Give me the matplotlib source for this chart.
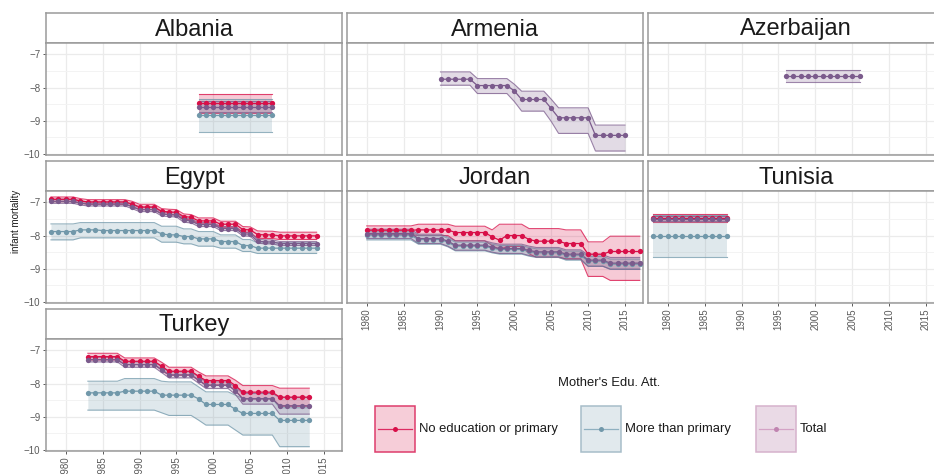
import matplotlib

matplotlib.use('Agg')
from matplotlib import pyplot as plt
from matplotlib.patches import Rectangle
from matplotlib.lines import Line2D

plt.rcParams['font.family'] = ['Liberation Sans', 'DejaVu Sans']

W, H = 934, 474

RED = '#d80f48'
BLUE = '#7198aa'
PURPLE = '#7b5b8c'

# ---- data (log infant mortality) ----
albania_years = list(range(1998, 2009))
albania_noedu = [-8.48] * 11
albania_noedu_lo = [-8.76] * 11
albania_noedu_hi = [-8.18] * 11
albania_more = [-8.83] * 11
albania_more_lo = [-9.33] * 11
albania_more_hi = [-8.36] * 11
albania_total = [-8.58] * 11
albania_total_lo = [-8.74] * 11
albania_total_hi = [-8.42] * 11

armenia_years = list(range(1990, 2016))
armenia_total = [-7.75] * 5 + [-7.94] * 5 + [-8.10] + [-8.36] * 4 + [-8.63] + [-8.91] * 5 + [-9.44] * 5
armenia_total_hi = [-7.53] * 5 + [-7.73] * 5 + [-7.90] + [-8.11] * 4 + [-8.35] + [-8.61] * 5 + [-9.13] * 5
armenia_total_lo = [-7.93] * 5 + [-8.18] * 5 + [-8.42] + [-8.71] * 4 + [-9.02] + [-9.38] * 5 + [-9.91] * 5

azerbaijan_years = list(range(1996, 2007))
azerbaijan_total = [-7.64] * 11
azerbaijan_total_hi = [-7.46] * 11
azerbaijan_total_lo = [-7.84] * 11

egypt_years = list(range(1978, 2015))
egypt_noedu = ([-6.91] * 4 + [-6.96] + [-6.99] * 6 + [-7.05] + [-7.14] * 3 + [-7.27, -7.29, -7.30]
               + [-7.43, -7.45] + [-7.56] * 3 + [-7.66] * 3 + [-7.82, -7.83] + [-7.97, -7.98, -7.98] + [-8.01] * 6)
egypt_noedu_hi = ([-6.84] * 4 + [-6.89] + [-6.92] * 6 + [-6.97] + [-7.06] * 3 + [-7.19, -7.21, -7.22]
                  + [-7.35, -7.37] + [-7.47] * 3 + [-7.57] * 3 + [-7.73, -7.74] + [-7.86, -7.87, -7.87] + [-7.90] * 6)
egypt_noedu_lo = ([-6.98] * 4 + [-7.03] + [-7.06] * 6 + [-7.13] + [-7.22] * 3 + [-7.35, -7.37, -7.38]
                  + [-7.51, -7.53] + [-7.65] * 3 + [-7.75] * 3 + [-7.91, -7.92] + [-8.08, -8.09, -8.09] + [-8.12] * 6)
egypt_more = ([-7.88] * 4 + [-7.83] * 3 + [-7.85] * 8 + [-7.95] + [-7.98] * 2 + [-8.03] * 2 + [-8.10] * 3
              + [-8.18] * 3 + [-8.30] * 2 + [-8.38] * 9)
egypt_more_hi = ([-7.65] * 4 + [-7.61] * 11 + [-7.72] * 3 + [-7.80] * 2 + [-7.88] * 3 + [-7.98] * 3
                 + [-8.12] * 2 + [-8.22] * 9)
egypt_more_lo = ([-8.13] * 4 + [-8.07] * 11 + [-8.20] * 3 + [-8.25] * 2 + [-8.32] * 3 + [-8.38] * 3
                 + [-8.48] * 2 + [-8.54] * 9)
egypt_total = ([-6.97] * 4 + [-7.02] + [-7.05] * 6 + [-7.13] + [-7.22] * 3 + [-7.35, -7.37, -7.38]
               + [-7.54, -7.56] + [-7.67] * 3 + [-7.79] * 3 + [-7.95, -7.96] + [-8.17, -8.19, -8.19] + [-8.24] * 6)
egypt_total_hi = ([-6.91] * 4 + [-6.96] + [-6.99] * 6 + [-7.07] + [-7.16] * 3 + [-7.29, -7.31, -7.32]
                  + [-7.48, -7.50] + [-7.61] * 3 + [-7.73] * 3 + [-7.89, -7.90] + [-8.11, -8.13, -8.13] + [-8.18] * 6)
egypt_total_lo = ([-7.03] * 4 + [-7.08] + [-7.11] * 6 + [-7.19] + [-7.28] * 3 + [-7.41, -7.43, -7.44]
                  + [-7.60, -7.62] + [-7.73] * 3 + [-7.85] * 3 + [-8.01, -8.02] + [-8.23, -8.25, -8.25] + [-8.30] * 6)

jordan_years = list(range(1980, 2018))
jordan_noedu = ([-7.84] * 7 + [-7.83] * 5 + [-7.91] * 5 + [-8.04, -8.14] + [-8.00] * 3 + [-8.12]
                + [-8.17] * 4 + [-8.24] * 3 + [-8.56] * 3 + [-8.48] * 5)
jordan_noedu_hi = ([-7.71] * 7 + [-7.66] * 5 + [-7.72] * 5 + [-7.83, -7.66] + [-7.66] * 3 + [-7.79]
                   + [-7.79] * 4 + [-7.83] * 3 + [-8.19] * 3 + [-8.02] * 5)
jordan_noedu_lo = ([-7.97] * 7 + [-8.00] * 5 + [-8.16] * 5 + [-8.30, -8.42] + [-8.33] * 3 + [-8.55]
                   + [-8.66] * 4 + [-8.70] * 3 + [-9.23] * 3 + [-9.35] * 5)
jordan_more = ([-7.99] * 7 + [-8.12] * 4 + [-8.20] + [-8.32] * 5 + [-8.38] + [-8.42] * 4 + [-8.48]
               + [-8.52] * 4 + [-8.59] * 3 + [-8.77] * 3 + [-8.86] * 5)
jordan_more_hi = ([-7.87] * 7 + [-8.00] * 4 + [-8.08] + [-8.20] * 5 + [-8.26] + [-8.30] * 4 + [-8.36]
                  + [-8.40] * 4 + [-8.47] * 3 + [-8.63] * 3 + [-8.71] * 5)
jordan_more_lo = ([-8.13] * 7 + [-8.26] * 4 + [-8.34] + [-8.46] * 5 + [-8.52] + [-8.56] * 4 + [-8.62]
                  + [-8.66] * 4 + [-8.74] * 3 + [-8.93] * 3 + [-9.02] * 5)
jordan_total = ([-7.94] * 7 + [-8.09] * 4 + [-8.17] + [-8.29] * 5 + [-8.35] + [-8.39] * 4 + [-8.45]
                + [-8.49] * 4 + [-8.56] * 3 + [-8.74] * 3 + [-8.83] * 5)
jordan_total_hi = ([-7.81] * 7 + [-7.96] * 4 + [-8.04] + [-8.16] * 5 + [-8.22] + [-8.26] * 4 + [-8.32]
                   + [-8.36] * 4 + [-8.43] * 3 + [-8.58] * 3 + [-8.66] * 5)
jordan_total_lo = ([-8.09] * 7 + [-8.24] * 4 + [-8.32] + [-8.44] * 5 + [-8.50] + [-8.54] * 4 + [-8.60]
                   + [-8.64] * 4 + [-8.71] * 3 + [-8.92] * 3 + [-9.01] * 5)

tunisia_years = list(range(1978, 1989))
tunisia_noedu = [-7.47] * 11
tunisia_noedu_hi = [-7.34] * 11
tunisia_noedu_lo = [-7.60] * 11
tunisia_more = [-8.00] * 11
tunisia_more_hi = [-7.38] * 11
tunisia_more_lo = [-8.64] * 11
tunisia_total = [-7.49] * 11
tunisia_total_hi = [-7.41] * 11
tunisia_total_lo = [-7.57] * 11

turkey_years = list(range(1983, 2014))
turkey_noedu = ([-7.19] * 5 + [-7.33] * 5 + [-7.48] + [-7.63] * 4 + [-7.78] + [-7.91] * 4 + [-8.06]
                + [-8.26] * 5 + [-8.41] * 5)
turkey_noedu_hi = ([-7.09] * 5 + [-7.23] * 5 + [-7.36] + [-7.51] * 4 + [-7.65] + [-7.77] * 4 + [-7.90]
                   + [-8.06] * 5 + [-8.14] * 5)
turkey_noedu_lo = ([-7.29] * 5 + [-7.43] * 5 + [-7.60] + [-7.75] * 4 + [-7.91] + [-8.05] * 4 + [-8.22]
                   + [-8.46] * 5 + [-8.68] * 5)
turkey_more = ([-8.28] * 5 + [-8.23] * 5 + [-8.35] + [-8.35] * 4 + [-8.46] + [-8.63] * 4 + [-8.78]
               + [-8.90] * 5 + [-9.11] * 5)
turkey_more_hi = ([-7.93] * 5 + [-7.85] * 5 + [-7.93] + [-7.95] * 4 + [-8.10] + [-8.25] * 4 + [-8.35]
                  + [-8.45] * 5 + [-8.73] * 5)
turkey_more_lo = ([-8.80] * 5 + [-8.80] * 5 + [-8.88] + [-8.96] * 4 + [-9.10] + [-9.25] * 4 + [-9.40]
                  + [-9.55] * 5 + [-9.90] * 5)
turkey_total = ([-7.28] * 5 + [-7.43] * 5 + [-7.58] + [-7.74] * 4 + [-7.89] + [-8.05] * 4 + [-8.22]
                + [-8.46] * 5 + [-8.67] * 5)
turkey_total_hi = ([-7.21] * 5 + [-7.35] * 5 + [-7.49] + [-7.65] * 4 + [-7.79] + [-7.95] * 4 + [-8.11]
                   + [-8.30] * 5 + [-8.42] * 5)
turkey_total_lo = ([-7.35] * 5 + [-7.51] * 5 + [-7.67] + [-7.83] * 4 + [-7.99] + [-8.15] * 4 + [-8.33]
                   + [-8.62] * 5 + [-8.92] * 5)

x_ticks = [1980, 1985, 1990, 1995, 2000, 2005, 2010, 2015]
y_ticks = [-10, -9, -8, -7]
y_minor = [-9.5, -8.5, -7.5]
legend_labels = ['No education or primary', 'More than primary', 'Total']

# (name, col, row, years, [(values, lo, hi, colour)], x labels, y labels)
panels = [
    ('Albania', 0, 0, albania_years,
     [(albania_noedu, albania_noedu_lo, albania_noedu_hi, RED),
      (albania_more, albania_more_lo, albania_more_hi, BLUE),
      (albania_total, albania_total_lo, albania_total_hi, PURPLE)], False, True),
    ('Armenia', 1, 0, armenia_years,
     [(armenia_total, armenia_total_lo, armenia_total_hi, PURPLE)], False, False),
    ('Azerbaijan', 2, 0, azerbaijan_years,
     [(azerbaijan_total, azerbaijan_total_lo, azerbaijan_total_hi, PURPLE)], False, False),
    ('Egypt', 0, 1, egypt_years,
     [(egypt_noedu, egypt_noedu_lo, egypt_noedu_hi, RED),
      (egypt_more, egypt_more_lo, egypt_more_hi, BLUE),
      (egypt_total, egypt_total_lo, egypt_total_hi, PURPLE)], False, True),
    ('Jordan', 1, 1, jordan_years,
     [(jordan_noedu, jordan_noedu_lo, jordan_noedu_hi, RED),
      (jordan_more, jordan_more_lo, jordan_more_hi, BLUE),
      (jordan_total, jordan_total_lo, jordan_total_hi, PURPLE)], True, False),
    ('Tunisia', 2, 1, tunisia_years,
     [(tunisia_noedu, tunisia_noedu_lo, tunisia_noedu_hi, RED),
      (tunisia_more, tunisia_more_lo, tunisia_more_hi, BLUE),
      (tunisia_total, tunisia_total_lo, tunisia_total_hi, PURPLE)], True, False),
    ('Turkey', 0, 2, turkey_years,
     [(turkey_noedu, turkey_noedu_lo, turkey_noedu_hi, RED),
      (turkey_more, turkey_more_lo, turkey_more_hi, BLUE),
      (turkey_total, turkey_total_lo, turkey_total_hi, PURPLE)], True, True),
]

COL_LEFT = [46, 347, 648]
ROW_TOP = [13, 161, 309]
PANEL_W = 296
STRIP_H = 30
DATA_H = 112
BORDER = '#9a9a9a'
TICK_COL = '#5a5a5a'

fig = plt.figure(figsize=(W / 100, H / 100), dpi=100)


def px_axes(left, top, width, height):
    return fig.add_axes([left / W, 1 - (top + height) / H, width / W, height / H])


for name, col, row, years, series, show_x, show_y in panels:
    left = COL_LEFT[col]
    top = ROW_TOP[row]

    sax = px_axes(left, top, PANEL_W, STRIP_H)
    sax.set_xticks([])
    sax.set_yticks([])
    for sp in sax.spines.values():
        sp.set_color(BORDER)
        sp.set_linewidth(1.1)
    sax.text(0.5, 0.45, name, transform=sax.transAxes, ha='center', va='center',
             fontsize=17, color='#1a1a1a')

    ax = px_axes(left, top + STRIP_H, PANEL_W, DATA_H)
    ax.set_xlim(1977.33, 2017.44)
    ax.set_ylim(-10.03, -6.66)
    ax.set_xticks(x_ticks)
    ax.set_yticks(y_ticks)
    ax.set_yticks(y_minor, minor=True)
    ax.grid(which='major', color='#ebebeb', linewidth=0.9)
    ax.grid(which='minor', axis='y', color='#f3f3f3', linewidth=0.7)
    ax.set_axisbelow(True)
    for sp in ax.spines.values():
        sp.set_color(BORDER)
        sp.set_linewidth(1.1)
    ax.tick_params(which='minor', length=0)
    ax.tick_params(axis='y', labelsize=7, colors=TICK_COL, length=2.5, width=0.7, pad=1.5)
    ax.tick_params(axis='x', labelsize=7, colors=TICK_COL, length=2.5, width=0.7, pad=1.5,
                   labelrotation=90)
    if not show_x:
        ax.tick_params(axis='x', length=0, labelbottom=False)
    if not show_y:
        ax.tick_params(axis='y', length=0, labelleft=False)

    for vals, lo, hi, c in series:
        ax.fill_between(years, lo, hi, color=c, alpha=0.22, linewidth=0, zorder=2)
        ax.plot(years, lo, color=c, linewidth=0.8, alpha=0.75, zorder=2)
        ax.plot(years, hi, color=c, linewidth=0.8, alpha=0.75, zorder=2)
    for vals, lo, hi, c in series:
        ax.plot(years, vals, color=c, linewidth=0.9, zorder=3)
    for vals, lo, hi, c in series:
        ax.plot(years, vals, linestyle='none', marker='o', markersize=3.8,
                markeredgewidth=0, color=c, zorder=4)

fig.text(16 / W, 1 - 221 / H, 'infant mortality', rotation=90, ha='center', va='center',
         fontsize=7, color='#1a1a1a')

# ---- legend, drawn in pixel space ----
lax = fig.add_axes([0, 0, 1, 1])
lax.set_xlim(0, W)
lax.set_ylim(H, 0)
lax.axis('off')
lax.text(609, 383, "Mother's Edu. Att.", ha='center', va='center', fontsize=9.4, color='#1a1a1a')

key_x = [375, 581, 756]
key_fill = ['#f6cdd8', '#e1e9ed', '#eadae6']
key_edge = ['#de3d6c', '#a7bdc9', '#d6b2cc']
key_line = ['#dd2c62', '#8fb0c0', '#d4a3c6']
key_dot = [RED, BLUE, '#c084b0']
for kx, lab, fc, ec, lc, dc in zip(key_x, legend_labels, key_fill, key_edge, key_line, key_dot):
    lax.add_patch(Rectangle((kx, 406), 40, 46, facecolor=fc, edgecolor=ec, linewidth=1.1))
    lax.add_line(Line2D([kx + 3, kx + 37], [429, 429], color=lc, linewidth=0.9))
    lax.add_line(Line2D([kx + 20], [429], marker='o', markersize=3.6, markeredgewidth=0, color=dc))
    lax.text(kx + 44, 429, lab, ha='left', va='center', fontsize=9.4, color='#1a1a1a')

plt.savefig('out.png', dpi=100)
plt.close('all')
